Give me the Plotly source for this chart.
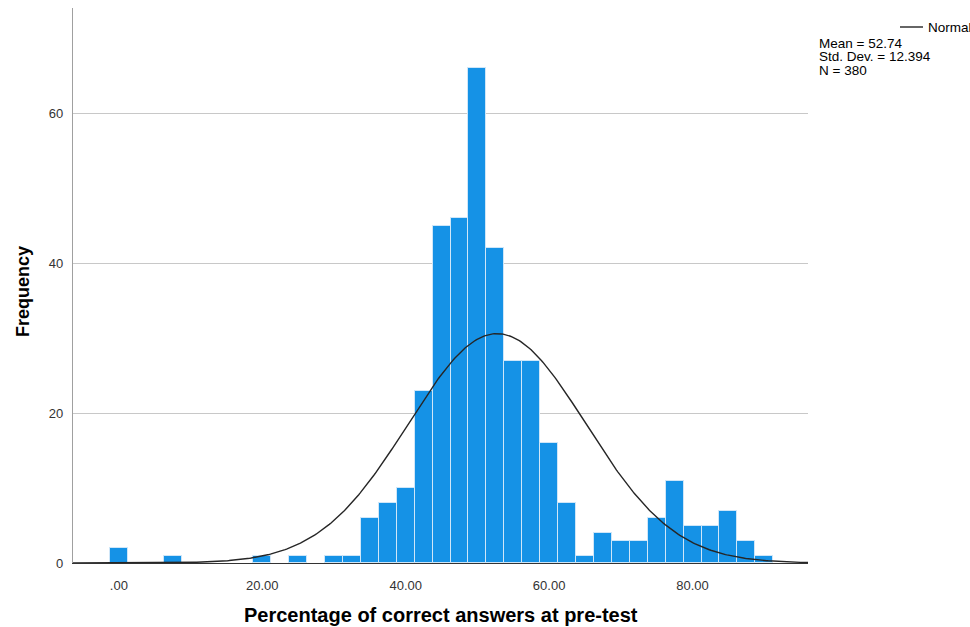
import numpy as np
import plotly.graph_objects as go

# Data
bin_centers = [0, 7.5, 20, 25, 30, 32.5, 35, 37.5, 40, 42.5, 45, 47.5, 50, 52.5, 55,
               57.5, 60, 62.5, 65, 67.5, 70, 72.5, 75, 77.5, 80, 82.5, 85, 87.5, 90]
counts = [2, 1, 1, 1, 1, 1, 6, 8, 10, 23, 45, 46, 66, 42, 27,
          27, 16, 8, 1, 4, 3, 3, 6, 11, 5, 5, 7, 3, 1]
bin_width = 2.5
mean_val = 52.74
std_val = 12.394
n_val = 380
x_tick_vals = [0, 20, 40, 60, 80]
x_tick_text = [".00", "20.00", "40.00", "60.00", "80.00"]
y_tick_vals = [0, 20, 40, 60]

W, H = 970, 627
# plot area in screen pixels
L, R, T, B = 73, 808, 8, 563
x_range = [-6.4, 96.1]
y_range = [0, 74]

font_family = "Liberation Sans, Arial, sans-serif"

fig = go.Figure()
fig.add_trace(go.Bar(
    x=bin_centers, y=counts, width=bin_width,
    marker=dict(color="#1592e6", line=dict(color="#cfe6f8", width=1)),
    showlegend=False, hoverinfo="x+y",
))

xs = np.linspace(x_range[0], x_range[1], 500)
ys = n_val * bin_width * np.exp(-0.5 * ((xs - mean_val) / std_val) ** 2) / (std_val * np.sqrt(2 * np.pi))
fig.add_trace(go.Scatter(x=xs, y=ys, mode="lines",
                         line=dict(color="#262626", width=1.4),
                         showlegend=False, hoverinfo="skip"))

def px_x(p):
    return (p - L) / (R - L)

def px_y(p):
    return (B - p) / (B - T)

annotations = [
    dict(text="<b>Percentage of correct answers at pre-test</b>", x=0.5, y=px_y(615),
         xref="paper", yref="paper", showarrow=False, xanchor="center", yanchor="middle",
         font=dict(family=font_family, size=20, color="#000000")),
    dict(text="<b>Frequency</b>", x=px_x(23), y=px_y(291),
         xref="paper", yref="paper", showarrow=False, xanchor="center", yanchor="middle",
         font=dict(family=font_family, size=18, color="#000000"), textangle=-90),
    dict(text="Normal", x=px_x(926), y=px_y(28), xref="paper", yref="paper",
         showarrow=False, xanchor="left", yanchor="middle",
         font=dict(family=font_family, size=13.5, color="#000000")),
    dict(text="Mean = %.2f" % mean_val, x=px_x(817), y=px_y(43), xref="paper", yref="paper",
         showarrow=False, xanchor="left", yanchor="middle",
         font=dict(family=font_family, size=13.5, color="#000000")),
    dict(text="Std. Dev. = %.3f" % std_val, x=px_x(817), y=px_y(57), xref="paper", yref="paper",
         showarrow=False, xanchor="left", yanchor="middle",
         font=dict(family=font_family, size=13.5, color="#000000")),
    dict(text="N = %d" % n_val, x=px_x(817), y=px_y(71), xref="paper", yref="paper",
         showarrow=False, xanchor="left", yanchor="middle",
         font=dict(family=font_family, size=13.5, color="#000000")),
]

shapes = [dict(type="line", xref="paper", yref="paper",
               x0=px_x(900), x1=px_x(923), y0=px_y(27), y1=px_y(27),
               line=dict(color="#000000", width=1.2))]

fig.update_layout(
    width=W, height=H,
    margin=dict(l=L, r=W - R, t=T, b=H - B, pad=0),
    plot_bgcolor="white", paper_bgcolor="white",
    bargap=0,
    font=dict(family=font_family, size=13, color="#333333"),
    annotations=annotations, shapes=shapes,
    xaxis=dict(range=x_range, tickvals=x_tick_vals, ticktext=x_tick_text,
               showgrid=False, zeroline=False, showline=True,
               linecolor="#333333", linewidth=1.3, ticks="", ticklabelstandoff=10,
               tickfont=dict(size=13, color="#333333")),
    yaxis=dict(range=y_range, tickvals=y_tick_vals, showgrid=True,
               gridcolor="#c8c8c8", gridwidth=1.2, zeroline=False, showline=True,
               linecolor="#a0a0a0", linewidth=1.2, ticks="", ticklabelstandoff=6,
               tickfont=dict(size=13, color="#333333")),
)

fig.write_html(
    "out.html",
    config={"displayModeBar": False},
    post_script="document.body.style.margin='0';document.body.style.overflow='hidden';",
)
